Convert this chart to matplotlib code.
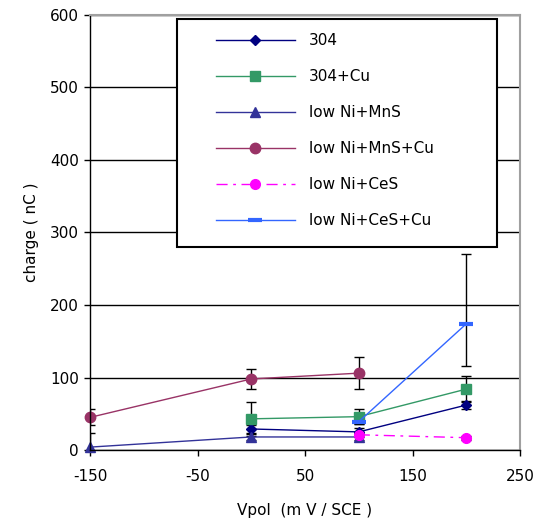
import matplotlib
matplotlib.use("Agg")
import matplotlib.pyplot as plt
from matplotlib.patches import Rectangle

plt.rcParams['font.family'] = ['DejaVu Sans']
plt.rcParams['axes.unicode_minus'] = False

# polarisation potential (mV/SCE) and measured charge (nC)
v_304 = [0, 100, 200]
q_304 = [29, 25, 62]
e_304 = [5, 6, 6]

v_304cu = [0, 100, 200]
q_304cu = [43, 46, 84]
e_304cu = [23, 10, 18]

v_mns = [-150, 0, 100]
q_mns = [4, 18, 18]
e_mns = [20, 4, 4]

v_mnscu = [-150, 0, 100]
q_mnscu = [45, 98, 106]
e_mnscu = [11, 14, 22]

v_ces = [100, 200]
q_ces = [21, 17]
e_ces = [3, 3]

v_cescu = [100, 200]
q_cescu = [39, 174]
e_cescu_lo = [3, 58]
e_cescu_hi = [3, 96]

labels = ['304', '304+Cu', 'low Ni+MnS', 'low Ni+MnS+Cu', 'low Ni+CeS', 'low Ni+CeS+Cu']

fig = plt.figure(figsize=(5.41, 5.24), dpi=100)
ax = fig.add_axes([0.1664, 0.1412, 0.7948, 0.8302])

ebkw = dict(ecolor='black', elinewidth=1.0, capsize=3.6, capthick=1.0)

h = []
h.append(ax.errorbar(v_304, q_304, yerr=e_304, color='#000080', lw=1.0,
                     marker='D', ms=5.5, **ebkw))
h.append(ax.errorbar(v_304cu, q_304cu, yerr=e_304cu, color='#339966', lw=1.0,
                     marker='s', ms=7, **ebkw))
h.append(ax.errorbar(v_mns, q_mns, yerr=e_mns, color='#333399', lw=1.0,
                     marker='^', ms=7, **ebkw))
h.append(ax.errorbar(v_mnscu, q_mnscu, yerr=e_mnscu, color='#993366', lw=1.0,
                     marker='o', ms=7.5, **ebkw))
h.append(ax.errorbar(v_ces, q_ces, yerr=e_ces, color='#FF00FF', lw=1.0,
                     ls=(0, (8, 4, 2, 4)), marker='o', ms=7, **ebkw))
h.append(ax.errorbar(v_cescu, q_cescu, yerr=[e_cescu_lo, e_cescu_hi],
                     color='#3366FF', lw=1.0, marker='_', ms=10, mew=3, **ebkw))

# markers may sit on the frame; caps stay thin
for c in h:
    c[0].set_clip_on(False)
    for cap in c[1]:
        cap.set_markeredgewidth(1.0)

ax.set_xlim(-150, 250)
ax.set_ylim(0, 600)
ax.set_xticks([-150, -50, 50, 150, 250])
ax.set_yticks(range(0, 601, 100))
ax.yaxis.grid(True, color='black', lw=1.0)
ax.set_axisbelow(True)
ax.tick_params(direction='out', length=4, width=1.0, labelsize=11, colors='black')
ax.tick_params(axis='x', pad=9.5)
ax.tick_params(axis='y', pad=4)
for s in ['top', 'right']:
    ax.spines[s].set_color('#a0a0a0')
    ax.spines[s].set_linewidth(1.5)
for s in ['left', 'bottom']:
    ax.spines[s].set_linewidth(1.0)

ax.set_xlabel('Vpol  (m V / SCE )', fontsize=11, labelpad=14)
ax.set_ylabel('charge ( nC )', fontsize=11, labelpad=8)

# legend box with a wide left margin
ax.add_patch(Rectangle((0.202, 0.467), 0.745, 0.524, transform=ax.transAxes,
                       facecolor='white', edgecolor='black', lw=1.5, zorder=5))
leg = ax.legend([c[0] for c in h], labels, loc='upper left',
                bbox_to_anchor=(0.264, 0.987), frameon=False, fontsize=11,
                handlelength=5.2, handletextpad=0.9, labelspacing=1.38,
                borderpad=0.3)
leg.set_zorder(6)

fig.savefig('out.png', dpi=100)
